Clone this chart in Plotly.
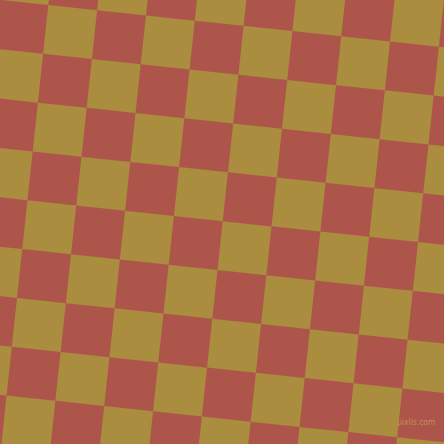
import plotly.graph_objects as go
import math

# checkerboard, rotated
red = "#AD554B"
gold = "#AA8D3E"
angle = 6.1          # degrees, clockwise
cell = 49.1          # side of one square, px
origin = (48.3, 5.0) # top-left corner of cell (0, 0)

cols = list(range(-2, 11))
rows = list(range(-2, 11))

ca = math.cos(math.radians(angle)) * cell
sa = math.sin(math.radians(angle)) * cell

xs, ys = [], []
for i in cols:
    for j in rows:
        if (i + j) % 2 != 0:
            continue
        cx = origin[0] + (i + 0.5) * ca - (j + 0.5) * sa
        cy = origin[1] + (i + 0.5) * sa + (j + 0.5) * ca
        xs.append(cx)
        ys.append(cy)

trace = go.Scatter(
    x=xs, y=ys, mode="markers", hoverinfo="skip",
    marker=dict(symbol="square", size=cell, angle=angle, color=gold,
                line=dict(width=0)))

layout = go.Layout(
    width=444, height=444,
    margin=dict(l=0, r=0, t=0, b=0),
    paper_bgcolor=red, plot_bgcolor=red,
    showlegend=False,
    xaxis=dict(range=[0, 444], visible=False, fixedrange=True),
    yaxis=dict(range=[444, 0], visible=False, fixedrange=True),
    annotations=[dict(text="pixlis.com", x=416, y=421.5, xref="x", yref="y",
                      showarrow=False,
                      font=dict(family="DejaVu Sans Condensed, Liberation Sans Narrow, Liberation Sans",
                                size=8.5, color="#C68A5A"))])

fig = go.Figure(data=[trace], layout=layout)
# page has an 8px body margin by default, drop it
fig.write_html("out.html", config=dict(displayModeBar=False),
               post_script="document.body.style.margin='0';")
